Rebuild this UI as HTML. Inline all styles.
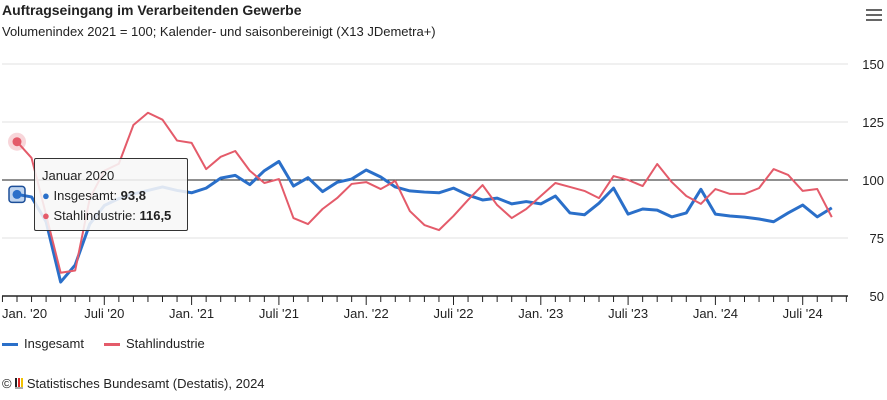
<!DOCTYPE html>
<html><head><meta charset="utf-8">
<style>
body{margin:0;background:#fff;font-family:"Liberation Sans",sans-serif;}
#wrap{position:relative;width:887px;height:400px;overflow:hidden;}
.t{position:absolute;white-space:nowrap;color:#222;}
</style></head>
<body>
<div id="wrap">
<div class="t" style="left:2px;top:2px;font-size:14px;font-weight:bold;">Auftragseingang im Verarbeitenden Gewerbe</div>
<div class="t" style="left:2px;top:24px;font-size:13px;">Volumenindex 2021 = 100; Kalender- und saisonbereinigt (X13 JDemetra+)</div>
<div style="position:absolute;left:866px;top:9px;width:16px;height:14px;">
<div style="height:2px;background:#666;margin-bottom:3px"></div><div style="height:2px;background:#666;margin-bottom:3px"></div><div style="height:2px;background:#666"></div></div>
<svg id="chart" width="887" height="400" style="position:absolute;left:0;top:0"></svg>
<div style="position:absolute;left:34px;top:158px;width:152px;height:71px;background:rgba(247,247,247,0.88);border:1px solid #333;border-radius:2px;font-size:13px;color:#222;">
<div style="position:absolute;left:7px;top:9px">Januar 2020</div>
<div style="position:absolute;left:7px;top:29px"><span style="color:#2a6fc9">●</span> Insgesamt: <b>93,8</b></div>
<div style="position:absolute;left:7px;top:49px"><span style="color:#e45b6a">●</span> Stahlindustrie: <b>116,5</b></div>
</div>
<div style="position:absolute;left:2px;top:336px;font-size:13px;color:#222;"><span style="display:inline-block;width:16px;height:3px;background:#2a6fc9;vertical-align:middle;margin-right:6px"></span>Insgesamt</div>
<div style="position:absolute;left:104px;top:336px;font-size:13px;color:#222;"><span style="display:inline-block;width:16px;height:3px;background:#e45b6a;vertical-align:middle;margin-right:6px"></span>Stahlindustrie</div>
<div class="t" style="left:2px;top:376px;font-size:13px;">© <span style="display:inline-block;width:8px;height:9px;border-bottom:2px solid #aaa;background:linear-gradient(90deg,#222 0 2px,transparent 2px 3px,#d22 3px 5px,transparent 5px 6px,#f2c200 6px 8px);vertical-align:-1px"></span> Statistisches Bundesamt (Destatis), 2024</div>
</div>
<script>
const insgesamt=[93.8,92.7,82,56,63.4,81,89,92,94,95.5,97,95.5,94.5,96.5,100.8,102,98,104,108,97.4,101,95,99,100.4,104.3,101.3,97,95.3,94.8,94.5,96.5,93.5,91.4,92.2,89.7,90.7,89.7,93.1,85.8,85,90,96.5,85.3,87.5,87,84.1,85.8,96,85.3,84.5,84,83.2,82,85.8,89.2,84.1,88];
const stahl=[116.5,109.5,85,60,61,92,104,107,123.7,129,126,117,116,104.7,110,112.5,104,98.7,100.4,83.6,81,87.5,92.2,98.3,99.1,96.1,99.6,86.6,80.6,78.4,84.5,91.4,97.8,89.2,83.6,87.5,93.1,98.7,97,95.3,92.2,101.7,100,97.4,106.9,99.1,93.1,89.7,96.1,94,94,96.5,104.7,102.2,95.3,96.1,84];
const yTicks=[50,75,100,125,150];
const xLabels=["Jan. '20","Juli '20","Jan. '21","Juli '21","Jan. '22","Juli '22","Jan. '23","Juli '23","Jan. '24","Juli '24"];
const svg=document.getElementById('chart');const NS='http://www.w3.org/2000/svg';
const X=i=>17+i*14.55;const Y=v=>180-(v-100)*2.32;
function mk(t,a){const e=document.createElementNS(NS,t);for(const k in a)e.setAttribute(k,a[k]);svg.appendChild(e);return e;}
yTicks.forEach(v=>{
 if(v!==50){const g=mk('line',{x1:2,x2:848,y1:Y(v),y2:Y(v),stroke:v===100?'#222':'#f0f0f0','stroke-width':v===100?1:2});
 
 }
 const t=mk('text',{x:884,y:Y(v)+5,'text-anchor':'end','font-size':13,fill:'#222','font-family':'Liberation Sans, sans-serif'});t.textContent=v;
 
 
});
const ax=mk('line',{x1:2,x2:848,y1:296,y2:296,stroke:'#222','stroke-width':1.5});


for(let i=-1;i<=57;i++){const major=i%6===0&&i>0;mk('line',{x1:X(i),x2:X(i),y1:296,y2:major?305:302,stroke:'#222','stroke-width':1});}
xLabels.forEach((l,k)=>{const t=mk('text',{x:k===0?2:X(k*6),y:318,'text-anchor':k===0?'start':'middle','font-size':13,fill:'#222','font-family':'Liberation Sans, sans-serif'});t.textContent=l;
 
 });
function line(d,c,w,n){const p=mk('polyline',{points:d.map((v,i)=>X(i)+','+Y(v)).join(' '),fill:'none',stroke:c,'stroke-width':w,'stroke-linejoin':'round'});
 
 }
line(insgesamt,'#2a6fc9',3,'series-insgesamt');
line(stahl,'#e45b6a',2,'series-stahlindustrie');
mk('circle',{cx:X(0),cy:Y(stahl[0]),r:9,fill:'#e45b6a','fill-opacity':0.25});
mk('circle',{cx:X(0),cy:Y(stahl[0]),r:4.5,fill:'#e45b6a'});
mk('rect',{x:X(0)-8,y:Y(insgesamt[0])-8,width:16,height:16,rx:3,fill:'#2a6fc9','fill-opacity':0.3,stroke:'#1d4f99','stroke-width':1.5});
mk('circle',{cx:X(0),cy:Y(insgesamt[0]),r:4.5,fill:'#2a6fc9'});
</script>
</body></html>
